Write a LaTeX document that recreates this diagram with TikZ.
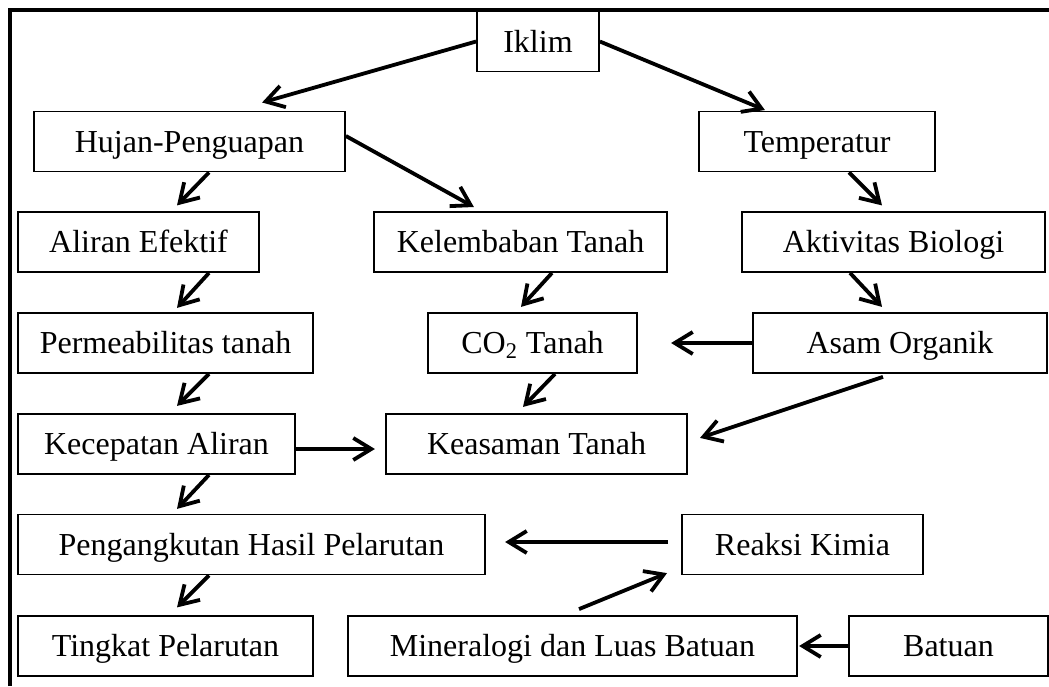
\documentclass[tikz,border=0pt]{standalone}
\usepackage{fontspec}
\setmainfont{Liberation Serif}
\usepackage{tikz}
\usetikzlibrary{arrows.meta}

\begin{document}
\begin{tikzpicture}[x=0.5pt,y=-0.5pt,
  box/.style={draw,line width=0.9pt,minimum height=30pt,inner sep=0pt,
    text height=10.6pt,text depth=0pt,font=\fontsize{16pt}{19pt}\selectfont},
  arr/.style={line width=1.9pt,-{Straight Barb[length=9pt,width=11pt]}}]
\useasboundingbox (0,0) rectangle (1049,686);
\draw[line width=2pt] (10,686) -- (10,10) -- (1049,10);
\node[box,minimum width=61pt] (a) at (538,41.5) {Iklim};
\node[box,minimum width=155.5pt] (b) at (189.5,141.5) {Hujan-Penguapan};
\node[box,minimum width=118pt] (c) at (817,141.5) {Temperatur};
\node[box,minimum width=120.5pt] (d) at (138.5,242) {Aliran Efektif};
\node[box,minimum width=146.5pt] (e) at (520.5,242) {Kelembaban Tanah};
\node[box,minimum width=151.5pt] (f) at (893.5,242) {Aktivitas Biologi};
\node[box,minimum width=147.5pt] (g) at (165.5,343) {Permeabilitas tanah};
\node[box,minimum width=104.5pt] (h) at (532.5,343) {CO\textsubscript{2} Tanah};
\node[box,minimum width=147pt] (i) at (900,343) {Asam Organik};
\node[box,minimum width=138.5pt] (j) at (156.5,444) {Kecepatan Aliran};
\node[box,minimum width=150.5pt] (k) at (536.5,444) {Keasaman Tanah};
\node[box,minimum width=233.5pt] (l) at (251.5,544.5) {Pengangkutan Hasil Pelarutan};
\node[box,minimum width=120.5pt] (m) at (802.5,544.5) {Reaksi Kimia};
\node[box,minimum width=147.5pt] (n) at (165.5,646) {Tingkat Pelarutan};
\node[box,minimum width=224.5pt] (o) at (572.5,646) {Mineralogi dan Luas Batuan};
\node[box,minimum width=99.5pt] (p) at (948.5,646) {Batuan};
\draw[arr] (a.west) -- ++(-214,61);
\draw[arr] (a.east) -- ++(165,68.5);
\draw[arr] (b.south) ++(19.5,0) -- ++(-32,33);
\draw[arr] (b.east) ++(0,-5.5) -- ++(128,71);
\draw[arr] (c.south) ++(32,0) -- ++(33,33);
\draw[arr] (d.south) ++(70.5,0) -- ++(-32,35);
\draw[arr] (e.south) ++(31.5,0) -- ++(-31,34);
\draw[arr] (f.south) ++(-43.5,0) -- ++(32,34);
\draw[arr] (i.west) -- ++(-81,0);
\draw[arr] (g.south) ++(43.5,0) -- ++(-32,32);
\draw[arr] (h.south) ++(22.5,0) -- ++(-32,33);
\draw[arr] (i.south) ++(-17,3) -- ++(-183,61);
\draw[arr] (j.east) ++(0,5) -- ++(79,0);
\draw[arr] (j.south) ++(52.5,0) -- ++(-32,34);
\draw[arr] (m.west) ++(-13,-2.5) -- ++(-163,0);
\draw[arr] (l.south) ++(-42.5,0) -- ++(-32,32);
\draw[arr] (o.north) ++(6.5,-6) -- ++(88,-36);
\draw[arr] (p.west) -- ++(-49,0);
\end{tikzpicture}
\end{document}
